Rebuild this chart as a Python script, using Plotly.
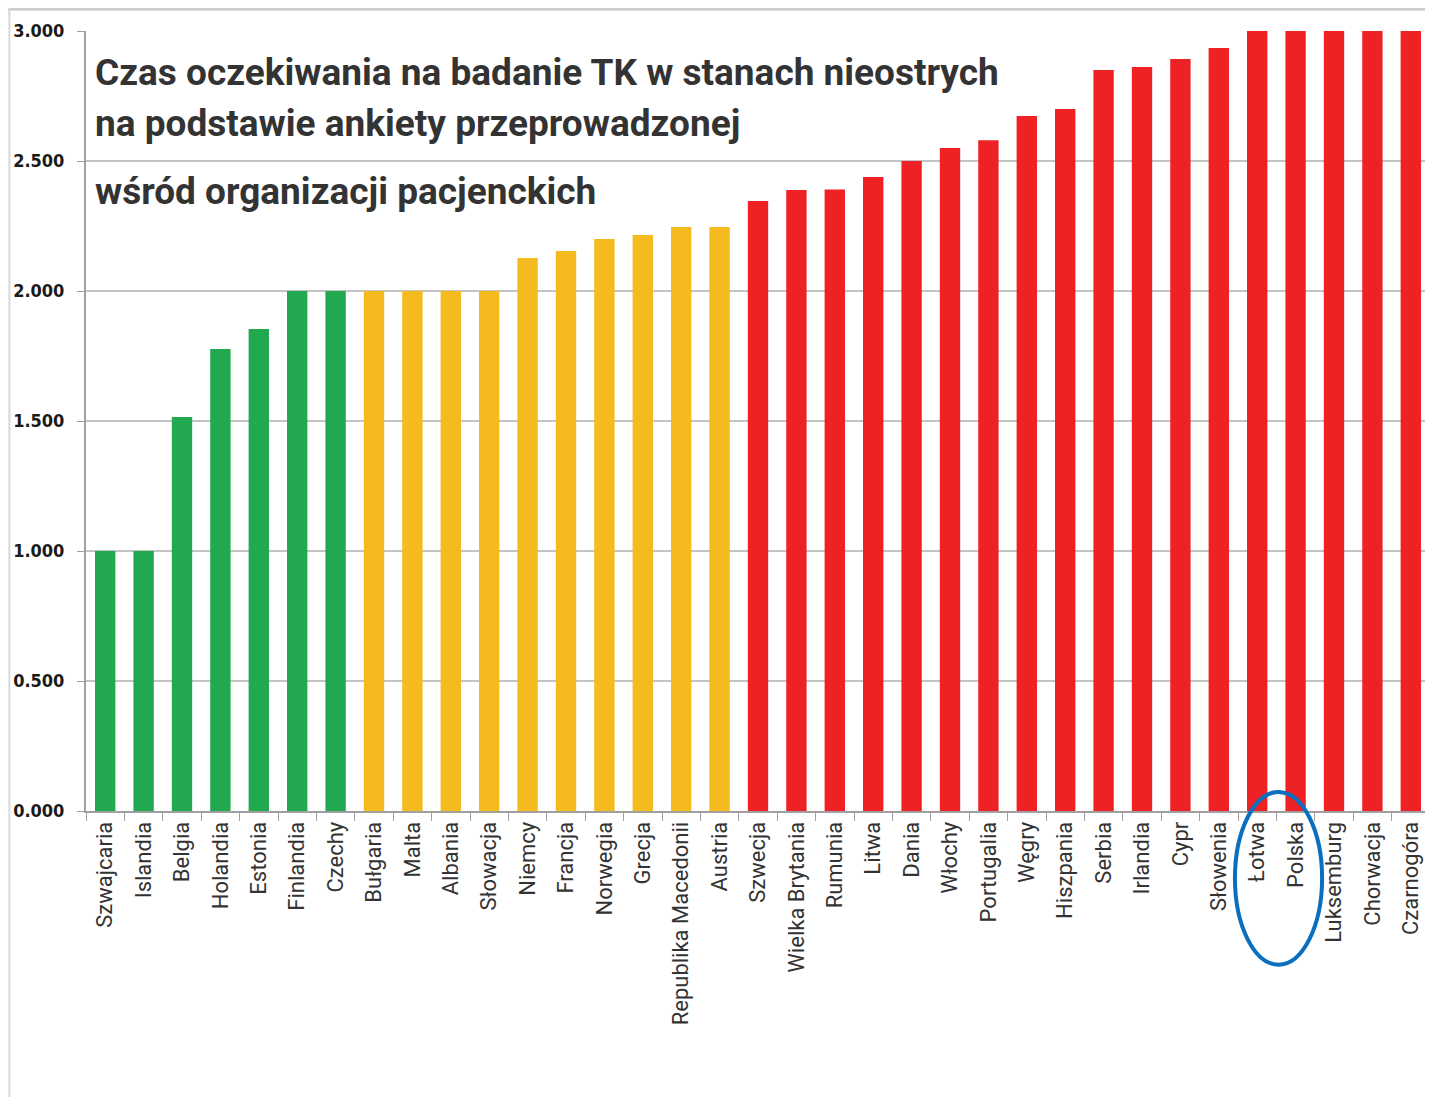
import plotly.graph_objects as go

countries = ["Szwajcaria", "Islandia", "Belgia", "Holandia", "Estonia", "Finlandia", "Czechy",
             "Bułgaria", "Malta", "Albania", "Słowacja", "Niemcy", "Francja", "Norwegia", "Grecja",
             "Republika Macedonii", "Austria",
             "Szwecja", "Wielka Brytania", "Rumunia", "Litwa", "Dania", "Włochy", "Portugalia",
             "Węgry", "Hiszpania", "Serbia", "Irlandia", "Cypr", "Słowenia", "Łotwa", "Polska",
             "Luksemburg", "Chorwacja", "Czarnogóra"]
values = [1.0, 1.0, 1.515, 1.777, 1.854, 2.0, 2.0,
          2.0, 2.0, 2.0, 2.0, 2.127, 2.154, 2.2, 2.215, 2.246, 2.246,
          2.346, 2.388, 2.39, 2.438, 2.5, 2.55, 2.58, 2.673, 2.7, 2.85, 2.862, 2.892, 2.935,
          3.0, 3.0, 3.0, 3.0, 3.0]
groups = ["green"] * 7 + ["yellow"] * 10 + ["red"] * 18
palette = {"green": "#22A84F", "yellow": "#F5BA1E", "red": "#EE2224"}
colors = [palette[g] for g in groups]

y_ticks = [0, 0.5, 1.0, 1.5, 2.0, 2.5, 3.0]
title_lines = ["Czas oczekiwania na badanie TK w stanach nieostrych",
               "na podstawie ankiety przeprowadzonej",
               "wśród organizacji pacjenckich"]

FONT = "Roboto, Liberation Sans, sans-serif"

fig = go.Figure(go.Bar(x=countries, y=values, marker=dict(color=colors, line=dict(width=0)),
                       hoverinfo="x+y"))

fig.update_layout(
    width=1425, height=1089,
    margin=dict(l=78, r=3, t=23, b=286),
    paper_bgcolor="white", plot_bgcolor="white",
    bargap=0.47, showlegend=False,
    font=dict(family=FONT, color="#222"),
)
fig.update_xaxes(
    tickangle=-90, tickfont=dict(size=22, family=FONT, color="#333"),
    showline=True, linecolor="#a0a0a0", linewidth=2,
    ticks="outside", ticklen=8, tickcolor="#a0a0a0", tickson="boundaries",
    showgrid=False, range=[-0.5, 34.5], automargin=False,
)
fig.update_yaxes(
    range=[0, 3.0], tickvals=y_ticks, tickformat=".3f",
    tickfont=dict(size=18, family="DejaVu Sans Condensed, DejaVu Sans", color="#1a1a1a",
                  weight="bold"),
    ticklabelstandoff=9,
    showgrid=True, gridcolor="#c4c4c4", gridwidth=2,
    showline=True, linecolor="#a0a0a0", linewidth=2,
    ticks="outside", ticklen=7, tickcolor="#a0a0a0",
    zeroline=False, automargin=False,
)

title_y = [0.947, 0.881, 0.794]
for line, yy in zip(title_lines, title_y):
    fig.add_annotation(text="<b>" + line + "</b>", xref="paper", yref="paper",
                       x=0.005, y=yy, xanchor="left", yanchor="middle", showarrow=False,
                       font=dict(size=37, family=FONT, color="#333"))

# highlight ellipse around Łotwa / Polska
fig.add_shape(type="circle", xref="x", yref="paper",
              x0=29.42, x1=31.69, y0=-0.197, y1=0.0244,
              line=dict(color="#0B6FBF", width=4))

# outer light frame
fig.add_shape(type="line", xref="paper", yref="paper", x0=-0.058, x1=1.01, y0=1.028, y1=1.028,
              line=dict(color="#cfcfcf", width=3))
fig.add_shape(type="line", xref="paper", yref="paper", x0=-0.057, x1=-0.057, y0=1.03, y1=-0.37,
              line=dict(color="#d8d8d8", width=2))

fig.write_html("out.html")
